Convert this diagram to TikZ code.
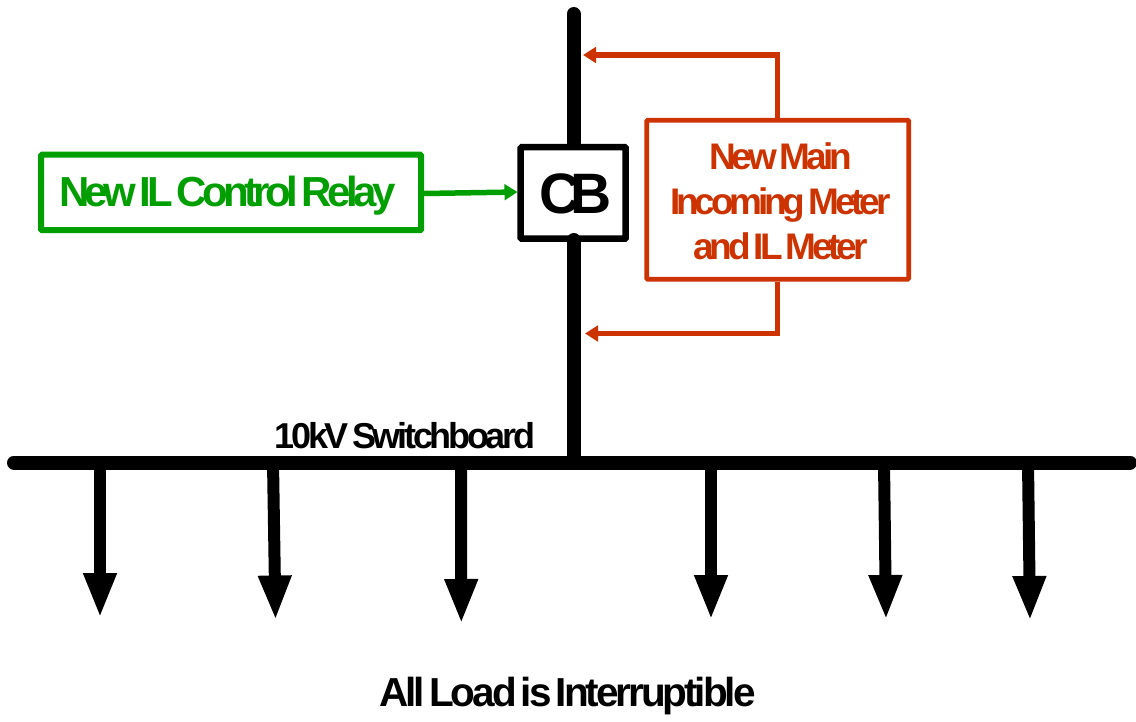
\documentclass[tikz,border=0pt]{standalone}
\usepackage{fontspec}
\setmainfont{Liberation Sans}[WordSpace=0.5]
\usetikzlibrary{arrows.meta}
\definecolor{grn}{RGB}{0,158,0}
\definecolor{org}{RGB}{204,51,0}
\newcommand{\tight}[1]{\addfontfeature{LetterSpace=#1}}
\begin{document}
\begin{tikzpicture}[x=1pt,y=-1pt,
 lbl/.style={align=center,inner sep=0pt},
 sp/.style={line width=14pt,line cap=round},
 load/.style={line width=12pt,-{Triangle[width=30.5pt,length=45pt]}},
 rel/.style={line width=5.5pt,-{Triangle[width=15.5pt,length=13pt]}}]
\useasboundingbox (0,0) rectangle (1136,722);
\coordinate (top) at (573.5,14);
\coordinate (busL) at (14,462.5);
\coordinate (busR) at (1130,462.5);
\coordinate (busJ) at (573.5,462.5);
\draw[sp] (busL) -- (busR);
\draw[sp] (top) -- (busJ);
\node[draw=black,line width=6.5pt,rounded corners=1pt,fill=white,minimum width=105pt,minimum height=91.5pt,inner sep=0pt] (cb) at (573.2,193) {};
\node[lbl,font=\fontsize{57}{60}\bfseries\selectfont] (cbt) at (575.5,194) {\tight{-19}CB};
\draw[sp] (573.5,240) -- (573.5,262);
\node[draw=grn,line width=6pt,rounded corners=1pt,minimum width=380pt,minimum height=75.5pt,inner sep=0pt] (relay) at (231.2,192.5) {};
\node[text=grn,lbl,font=\fontsize{42}{46}\bfseries\selectfont] (rt) at (227.5,196) {\tight{-10.8}New IL Control Relay};
\node[draw=org,line width=4.7pt,rounded corners=1pt,minimum width=262pt,minimum height=159pt] (meter) at (777.7,199.7) {};
\node[text=org,lbl,font=\fontsize{37}{45}\bfseries\selectfont] (mt) at (780.5,201) {\tight{-11.3}New Main\\\tight{-11.3}Incoming Meter\\\tight{-11.3}and IL Meter};
\draw[rel,grn] ([yshift=-1pt]relay.east) -- ([yshift=1pt]cb.west);
\draw[rel,org] (meter.north) -- (777.7,55) -- (583,55);
\draw[rel,org] (meter.south) -- (777.7,333.5) -- (585,333.5);
\node[lbl,font=\fontsize{36}{40}\bfseries\selectfont] (sw) at (405,436) {\tight{-9.2}10kV Switchboard};
\node[lbl,font=\fontsize{40.5}{44}\bfseries\selectfont] (all) at (567.5,696) {\tight{-7.5}All Load is Interruptible};
\foreach \n/\xa/\xb/\yb in {a/100/100/618,b/273/275.5/620.5,c/461/461.3/624,d/711/711/620,e/884/886/620,f/1028/1030/621}{
 \coordinate (\n1) at (\xa,462);
 \coordinate (\n2) at (\xb,\yb);
 \draw[load] (\n1) -- (\n2);
}
\end{tikzpicture}
\end{document}
